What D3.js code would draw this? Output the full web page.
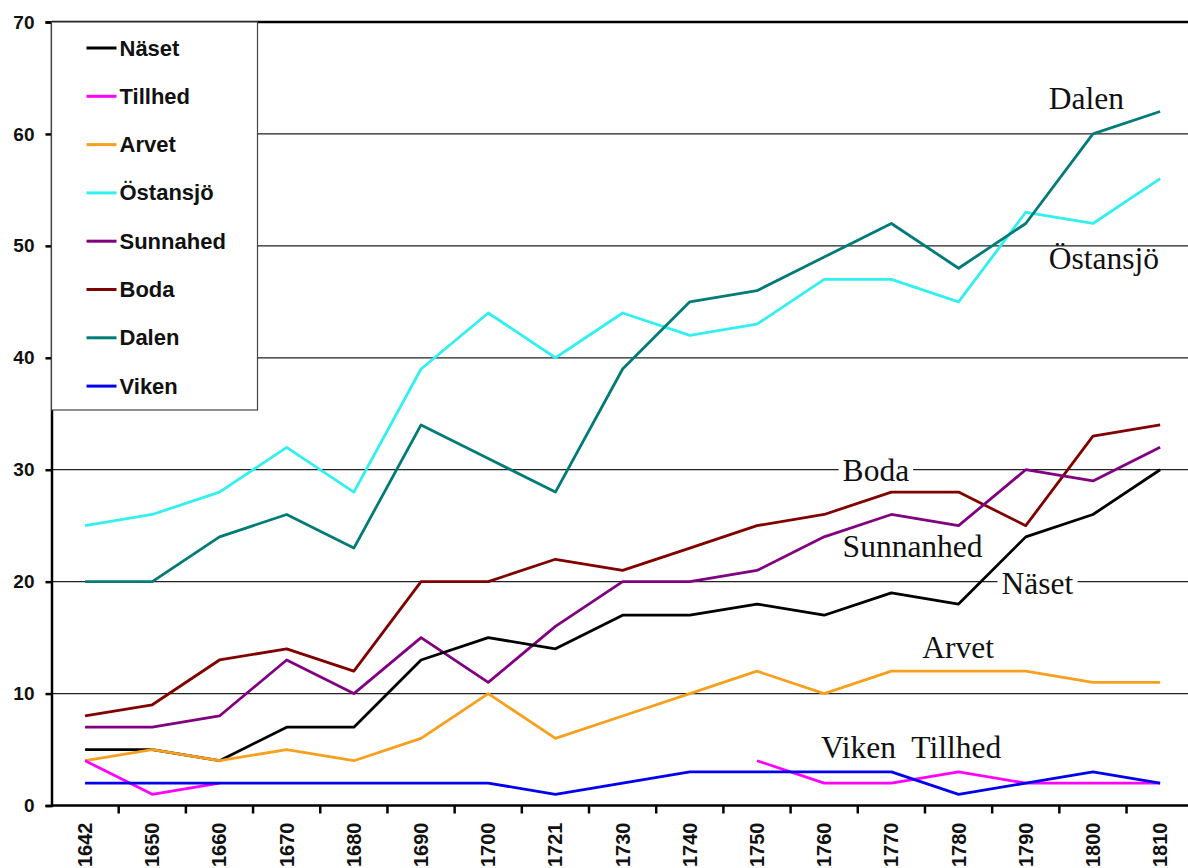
<!DOCTYPE html>
<html>
<head>
<meta charset="utf-8">
<script src="https://cdn.jsdelivr.net/npm/d3@7"></script>
<style>
  html, body { margin: 0; padding: 0; background: #fff; }
  svg { display: block; }
</style>
</head>
<body>
<div class="chart_area"></div>
<script>
// data
var years = ["1642","1650","1660","1670","1680","1690","1700","1721","1730","1740","1750","1760","1770","1780","1790","1800","1810"];
var yTicks = [0, 10, 20, 30, 40, 50, 60, 70];

var naset    = [5, 5, 4, 7, 7, 13, 15, 14, 17, 17, 18, 17, 19, 18, 24, 26, 30];
var tillhed  = [4, 1, 2, null, null, null, null, null, null, null, 4, 2, 2, 3, 2, 2, 2];
var arvet    = [4, 5, 4, 5, 4, 6, 10, 6, 8, 10, 12, 10, 12, 12, 12, 11, 11];
var ostansjo = [25, 26, 28, 32, 28, 39, 44, 40, 44, 42, 43, 47, 47, 45, 53, 52, 56];
var sunnahed = [7, 7, 8, 13, 10, 15, 11, 16, 20, 20, 21, 24, 26, 25, 30, 29, 32];
var boda     = [8, 9, 13, 14, 12, 20, 20, 22, 21, 23, 25, 26, 28, 28, 25, 33, 34];
var dalen    = [20, 20, 24, 26, 23, 34, 31, 28, 39, 45, 46, 49, 52, 48, 52, 60, 62];
var viken    = [2, 2, 2, 2, 2, 2, 2, 1, 2, 3, 3, 3, 3, 1, 2, 3, 2];

var seriesNames = ["Näset", "Tillhed", "Arvet", "Östansjö", "Sunnahed", "Boda", "Dalen", "Viken"];
var seriesValues = [naset, tillhed, arvet, ostansjo, sunnahed, boda, dalen, viken];
var seriesColors = ["#000000", "#ff00ff", "#f7a01e", "#33f0f0", "#800080", "#800000", "#007b78", "#0000ee"];

// drawing order (blue drawn last, as in the picture)
var drawOrder = [3, 6, 5, 4, 0, 2, 1, 7];

// in-chart notes: [text, year, value, offset x, white background]
var notes = [
    ["Dalen", "1790", 62.2, 23, false],
    ["Östansjö", "1790", 47.9, 23, false],
    ["Boda", "1730", 29.0, 220, true],
    ["Sunnanhed", "1730", 22.2, 220, false],
    ["Näset", "1780", 18.9, 43, true],
    ["Arvet", "1760", 13.2, 98, false],
    ["Viken  Tillhed", "1750", 4.2, 64, false]
];

var W = 1188, H = 868;
var margin = { top: 22, left: 51.5, bottom: 62.5 };
var plotW = 17 * 67.19, plotH = H - margin.top - margin.bottom;

var svg = d3.select(".chart_area")
    .append("svg")
    .attr("width", W)
    .attr("height", H)
    .style("font-family", "'Liberation Sans', Arial, sans-serif");

var g = svg.append("g")
    .attr("transform", "translate(" + margin.left + "," + margin.top + ")");

var x = d3.scaleBand()
    .domain(years)
    .range([0, plotW])
    .paddingInner(0)
    .paddingOuter(0);

var y = d3.scaleLinear()
    .domain([0, 70])
    .range([plotH, 0]);

function cx(d) { return x(d) + x.bandwidth() / 2; }

// gridlines
g.selectAll(".grid")
    .data(yTicks.filter(function(t){ return t > 0 && t < 70; }))
    .enter()
    .append("line")
    .attr("class", "grid")
    .attr("x1", 0)
    .attr("x2", plotW)
    .attr("y1", function(d){ return y(d); })
    .attr("y2", function(d){ return y(d); })
    .style("stroke", "#222")
    .style("stroke-width", 1.3);

// top border
g.append("line")
    .attr("x1", 0).attr("x2", plotW)
    .attr("y1", y(70)).attr("y2", y(70))
    .style("stroke", "#000")
    .style("stroke-width", 2.5);

// y axis
var yAxis = g.append("g")
    .attr("class", "y_axis")
    .call(d3.axisLeft(y).tickValues(yTicks).tickSize(6).tickPadding(11));

yAxis.select(".domain").style("stroke", "#000").style("stroke-width", 2.5);
yAxis.selectAll("line").style("stroke", "#000").style("stroke-width", 2.5);
yAxis.selectAll("text")
    .attr("font-size", null)
    .style("font-size", "19px")
    .style("font-weight", "bold")
    .style("fill", "#111");

// x axis, ticks at band boundaries
g.append("line")
    .attr("x1", 0).attr("x2", plotW)
    .attr("y1", plotH).attr("y2", plotH)
    .style("stroke", "#000")
    .style("stroke-width", 2.5);

g.selectAll(".xtick")
    .data(years.slice(1))
    .enter()
    .append("line")
    .attr("class", "xtick")
    .attr("x1", function(d){ return x(d); })
    .attr("x2", function(d){ return x(d); })
    .attr("y1", plotH)
    .attr("y2", plotH + 8)
    .style("stroke", "#000")
    .style("stroke-width", 2.5);

g.selectAll(".xlabel")
    .data(years)
    .enter()
    .append("text")
    .attr("class", "xlabel")
    .attr("transform", function(d){
        return "translate(" + (cx(d) + 7) + "," + (plotH + 17) + ")rotate(-90)";
    })
    .style("text-anchor", "end")
    .style("font-size", "20px")
    .style("font-weight", "bold")
    .style("fill", "#111")
    .text(function(d){ return d; });

// notes (serif, some with white background to break the gridline)
var noteG = g.selectAll(".note")
    .data(notes)
    .enter()
    .append("g")
    .attr("class", "note")
    .attr("transform", function(d){
        return "translate(" + (cx(d[1]) + d[3]) + "," + y(d[2]) + ")";
    });

noteG.append("text")
    .attr("x", 0)
    .attr("y", 0)
    .style("font-family", "'Liberation Serif', 'Times New Roman', serif")
    .style("font-size", "31.5px")
    .style("fill", "#111")
    .style("white-space", "pre")
    .attr("xml:space", "preserve")
    .text(function(d){ return d[0]; });

noteG.each(function(d){
    if (!d[4]) return;
    var node = d3.select(this);
    var bb = node.select("text").node().getBBox();
    node.insert("rect", "text")
        .attr("x", bb.x - 4)
        .attr("y", bb.y)
        .attr("width", bb.width + 8)
        .attr("height", bb.height)
        .style("fill", "#fff");
});

// lines
var line = d3.line()
    .defined(function(d){ return d[1] !== null; })
    .x(function(d){ return cx(d[0]); })
    .y(function(d){ return y(d[1]); });

drawOrder.forEach(function(i){
    var pts = years.map(function(yr, k){ return [yr, seriesValues[i][k]]; });
    g.append("path")
        .datum(pts)
        .attr("class", "series_line")
        .attr("d", line)
        .style("fill", "none")
        .style("stroke", seriesColors[i])
        .style("stroke-width", 2.8)
        .style("stroke-linejoin", "round");
});

// legend
var legend = g.append("g").attr("class", "legend");

legend.append("rect")
    .attr("x", 0)
    .attr("y", 0)
    .attr("width", 206)
    .attr("height", 388)
    .style("fill", "#fff")
    .style("stroke", "#444")
    .style("stroke-width", 1.2);

var item = legend.selectAll(".legend_item")
    .data(seriesNames)
    .enter()
    .append("g")
    .attr("class", "legend_item")
    .attr("transform", function(d, i){ return "translate(0," + (26 + i * 48.3) + ")"; });

item.append("line")
    .attr("x1", 35)
    .attr("x2", 65)
    .attr("y1", 0)
    .attr("y2", 0)
    .style("stroke", function(d, i){ return seriesColors[i]; })
    .style("stroke-width", 3);

item.append("text")
    .attr("x", 68)
    .attr("y", 7.5)
    .style("font-size", "22px")
    .style("font-weight", "bold")
    .style("fill", "#111")
    .text(function(d){ return d; });
</script>
</body>
</html>
